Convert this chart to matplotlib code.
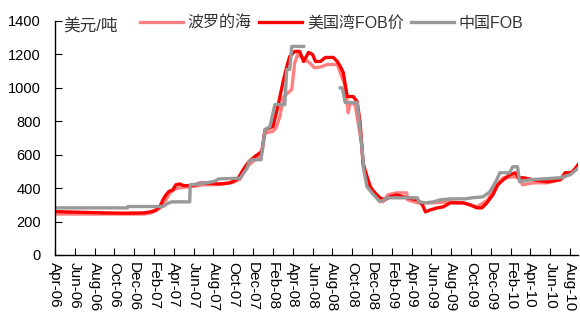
import numpy as np
import matplotlib
matplotlib.use("Agg")
import matplotlib.pyplot as plt

plt.rcParams['font.family'] = ['Liberation Sans', 'Noto Sans CJK SC', 'DejaVu Sans']

tick_labels = ["Apr-06", "Jun-06", "Aug-06", "Oct-06", "Dec-06", "Feb-07", "Apr-07", "Jun-07",
               "Aug-07", "Oct-07", "Dec-07", "Feb-08", "Apr-08", "Jun-08", "Aug-08", "Oct-08",
               "Dec-08", "Feb-09", "Apr-09", "Jun-09", "Aug-09", "Oct-09", "Dec-09", "Feb-10",
               "Apr-10", "Jun-10", "Aug-10"]

# months since Apr-06
baltic_m = [0, 3, 6, 9, 9.6, 10.1, 10.6, 10.9, 11.2, 11.6, 12.0, 12.4, 13.0, 14.0, 15, 16, 17, 18,
            18.7, 19.1, 19.6, 20.2, 20.8, 21.2, 22.0, 22.3, 22.7, 23.1, 23.9, 24.2, 24.5, 25.0,
            25.7, 26.2, 26.8, 27.5, 28.5, 28.8, 29.3, 29.6, 29.8, 30.3, 30.6, 31.0, 31.1, 31.6,
            32.1, 33.1, 33.6, 34.5, 35.5, 35.6, 36.6, 38, 39.9, 41.2, 42.6, 43.7, 44.2, 45.25,
            46.3, 46.9, 47.2, 48.3, 49.7, 51.0, 52.0, 52.8]
baltic_v = [245, 245, 245, 245, 250, 262, 280, 310, 330, 370, 390, 400, 405, 410, 420, 420, 425, 435,
            455, 500, 540, 570, 600, 730, 740, 760, 828, 948, 990, 1150, 1200, 1180,
            1150, 1120, 1125, 1140, 1140, 1092, 1008, 852, 912, 900, 792, 648, 528, 450,
            378, 318, 360, 372, 372, 330, 312, 312, 318, 312, 288, 330, 390, 462,
            468, 460, 420, 432, 432, 450, 492, 528]

usgulf_m = [0, 1, 3, 5, 7, 9, 9.8, 10.2, 10.6, 10.9, 11.2, 11.5, 11.9, 12.2, 12.6, 13.0, 13.6, 14.2,
            14.6, 15.5, 16.5, 17.5, 18.0, 18.5, 18.9, 19.2, 19.6, 20.2, 20.9, 21.2, 22.0, 22.5,
            23.0, 23.4, 23.7, 24.2, 24.7, 25.1, 25.6, 26.0, 26.3, 26.8, 27.3, 28.1, 28.5, 28.8,
            29.1, 29.5, 30.1, 30.5, 30.8, 31.0, 31.1, 31.5, 31.8, 32.3, 32.8, 33.3, 33.8, 34.5,
            35.5, 36.6, 37.1, 37.4, 37.9, 38.6, 39.2, 39.9, 41.2, 41.9, 42.6, 43.1, 43.6, 44.2,
            44.7, 45.25, 45.9, 46.5, 46.8, 47.3, 48.3, 49.7, 51.0, 51.5, 52.2, 52.8]
usgulf_v = [260, 258, 255, 252, 250, 252, 260, 270, 290, 330, 360, 380, 390, 420, 425, 415, 415, 420,
            430, 430, 425, 430, 440, 460, 500, 528, 560, 590, 620, 750, 768, 888,
            1030, 1128, 1188, 1218, 1218, 1158, 1212, 1200, 1158, 1158, 1182, 1182, 1158, 1128,
            1092, 948, 948, 918, 792, 630, 552, 468, 408, 372, 342, 330, 348, 360,
            342, 330, 300, 258, 270, 282, 288, 312, 312, 300, 282, 282, 312, 360,
            420, 450, 480, 492, 462, 462, 450, 438, 450, 492, 492, 540]

china_m = [0, 7.3, 7.35, 10.9, 11.4, 11.8, 13.6, 13.65, 14.5, 15.0, 16.1, 16.5, 18.7, 19.4, 19.6,
           19.9, 20.8, 21.2, 21.7, 22.2, 23.2, 23.4, 23.7, 23.9, 25.1, 25.2,
           28.8, 29.0, 29.3, 30.5, 30.8, 31.0, 31.2, 31.5, 32.0, 32.8, 33.6, 36.6, 36.7, 37.4,
           38.2, 38.9, 39.9, 41.4, 42.1, 43.2, 43.9, 44.6, 44.9, 45.9, 46.2, 46.7, 46.9, 47.9,
           51.0, 52.0, 53.0]
china_v = [282, 282, 290, 290, 310, 318, 318, 420, 425, 430, 440, 455, 460, 520, 558,
           570, 570, 750, 768, 900, 900, 1110, 1110, 1248, 1248, np.nan,
           1000, 1000, 912, 912, 750, 630, 500, 408, 372, 318, 342, 342, 318, 312,
           318, 330, 336, 336, 342, 348, 378, 450, 492, 492, 528, 528, 438, 450,
           462, 480, 528]

series_names = ["波罗的海", "美国湾FOB价", "中国FOB"]

fig = plt.figure(figsize=(5.8, 3.25), dpi=100)
ax = fig.add_axes([55/580, 1-255/325, 523/580, 234/325])

lw = 2.4
ax.plot(baltic_m, baltic_v, color="#FF8080", lw=lw, label=series_names[0])
ax.plot(usgulf_m, usgulf_v, color="#FF0000", lw=lw, label=series_names[1])
ax.plot(china_m, china_v, color="#999999", lw=lw, label=series_names[2])

ax.set_xlim(0, 52.8)
ax.set_ylim(0, 1400)
ax.set_yticks(range(0, 1401, 200))
ax.set_xticks(np.arange(0, 53, 2))
ax.set_xticklabels(tick_labels, rotation=-90, fontsize=11)
ax.tick_params(axis='y', direction='in', length=5, labelsize=10.5, pad=10)
ax.tick_params(axis='x', direction='in', length=5, pad=5)
for s in ['top', 'right']:
    ax.spines[s].set_visible(False)
for s in ['left', 'bottom']:
    ax.spines[s].set_linewidth(1.0)

ax.text(63/580, 1-26/325, "美元/吨", transform=fig.transFigure, fontsize=12,
        va='center', ha='left', color='#333333')

leg = ax.legend(ncol=3, frameon=False, loc='center left',
                bbox_to_anchor=(140/580, 1-23/325), bbox_transform=fig.transFigure,
                borderpad=0, borderaxespad=0, handlelength=2.7, handletextpad=0.3,
                columnspacing=0.45, prop={'size': 11.5})
for t in leg.get_texts():
    t.set_color('#333333')

fig.savefig("out.png", dpi=100)
